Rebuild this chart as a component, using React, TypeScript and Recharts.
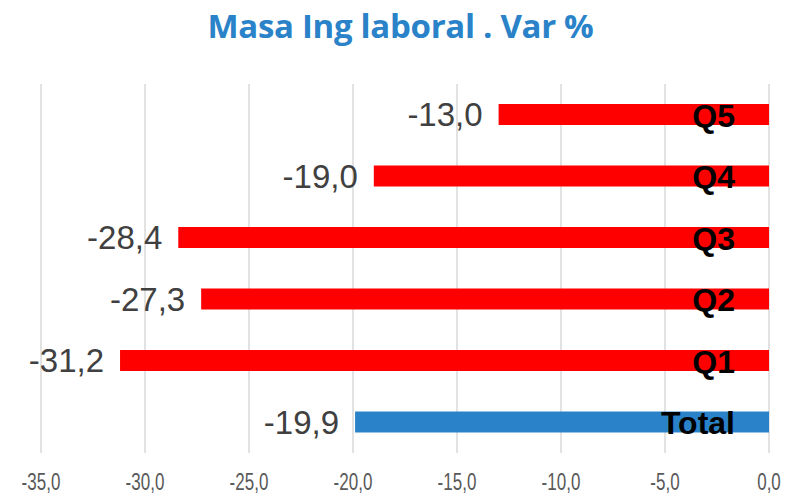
import React from 'react';
import { BarChart, Bar, XAxis, YAxis, CartesianGrid, Cell, LabelList } from 'recharts';

// Valores (de arriba hacia abajo)
const categories = ['Q5', 'Q4', 'Q3', 'Q2', 'Q1', 'Total'];
const values = [-13.0, -19.0, -28.4, -27.3, -31.2, -19.9];
const xTicks = [-35, -30, -25, -20, -15, -10, -5, 0];

const RED = '#FF0000';
const BLUE = '#2A83C9';

const chartData = categories.map((name, i) => ({
  name,
  value: values[i],
  color: name === 'Total' ? BLUE : RED,
}));

const fmt = (v: number) => Number(v).toFixed(1).replace('.', ',');

function XTick(props: any) {
  const { x, y, payload } = props;
  return (
    <text
      transform={`translate(${x},${y + 21}) scale(0.74,1)`}
      textAnchor="middle"
      dominantBaseline="central"
      fill="#595959"
      fontSize={23}
      fontFamily="'Liberation Sans Narrow', 'Liberation Sans', sans-serif"
    >
      {fmt(payload.value)}
    </text>
  );
}

function ValueLabel(props: any) {
  const { x, y, width, height, value } = props;
  const left = Math.min(x, x + width);
  return (
    <text
      x={left - 16}
      y={y + height / 2}
      textAnchor="end"
      dominantBaseline="central"
      fill="#404040"
      fontSize={33}
      fontFamily="'Liberation Sans', Arial, sans-serif"
    >
      {fmt(value)}
    </text>
  );
}

function NameLabel(props: any) {
  const { x, y, width, height, value } = props;
  const right = Math.max(x, x + width);
  return (
    <text
      x={right - 34}
      y={y + height / 2 + 1}
      textAnchor="end"
      dominantBaseline="central"
      fill="#000000"
      fontSize={32}
      fontWeight="bold"
      fontFamily="'Liberation Sans', Arial, sans-serif"
    >
      {value}
    </text>
  );
}

export default function App() {
  return (
    <div style={{ position: 'relative', width: 773, height: 490 }}>
      <div
        style={{
          position: 'absolute',
          top: -2,
          left: 6,
          width: 773,
          textAlign: 'center',
          fontFamily: "'Open Sans', sans-serif",
          fontWeight: 700,
          fontSize: 33,
          color: '#2A83C9',
          lineHeight: '40px',
          letterSpacing: -0.3,
        }}
      >
        Masa Ing laboral . Var %
      </div>
      <BarChart
        width={773}
        height={490}
        data={chartData}
        layout="vertical"
        margin={{ top: 76, right: 12, bottom: 15, left: 33 }}
        barCategoryGap={20}
      >
        <CartesianGrid horizontal={false} stroke="#D9D9D9" strokeWidth={1.5} />
        <XAxis
          type="number"
          domain={[-35, 0]}
          ticks={xTicks}
          axisLine={false}
          tickLine={false}
          tick={(p: any) => <XTick {...p} />}
          height={30}
        />
        <YAxis type="category" dataKey="name" hide width={0} />
        <Bar dataKey="value" barSize={21} isAnimationActive={false}>
          {chartData.map((d, i) => (
            <Cell key={i} fill={d.color} />
          ))}
          <LabelList dataKey="value" content={(p: any) => <ValueLabel {...p} />} />
          <LabelList dataKey="name" content={(p: any) => <NameLabel {...p} />} />
        </Bar>
      </BarChart>
    </div>
  );
}
